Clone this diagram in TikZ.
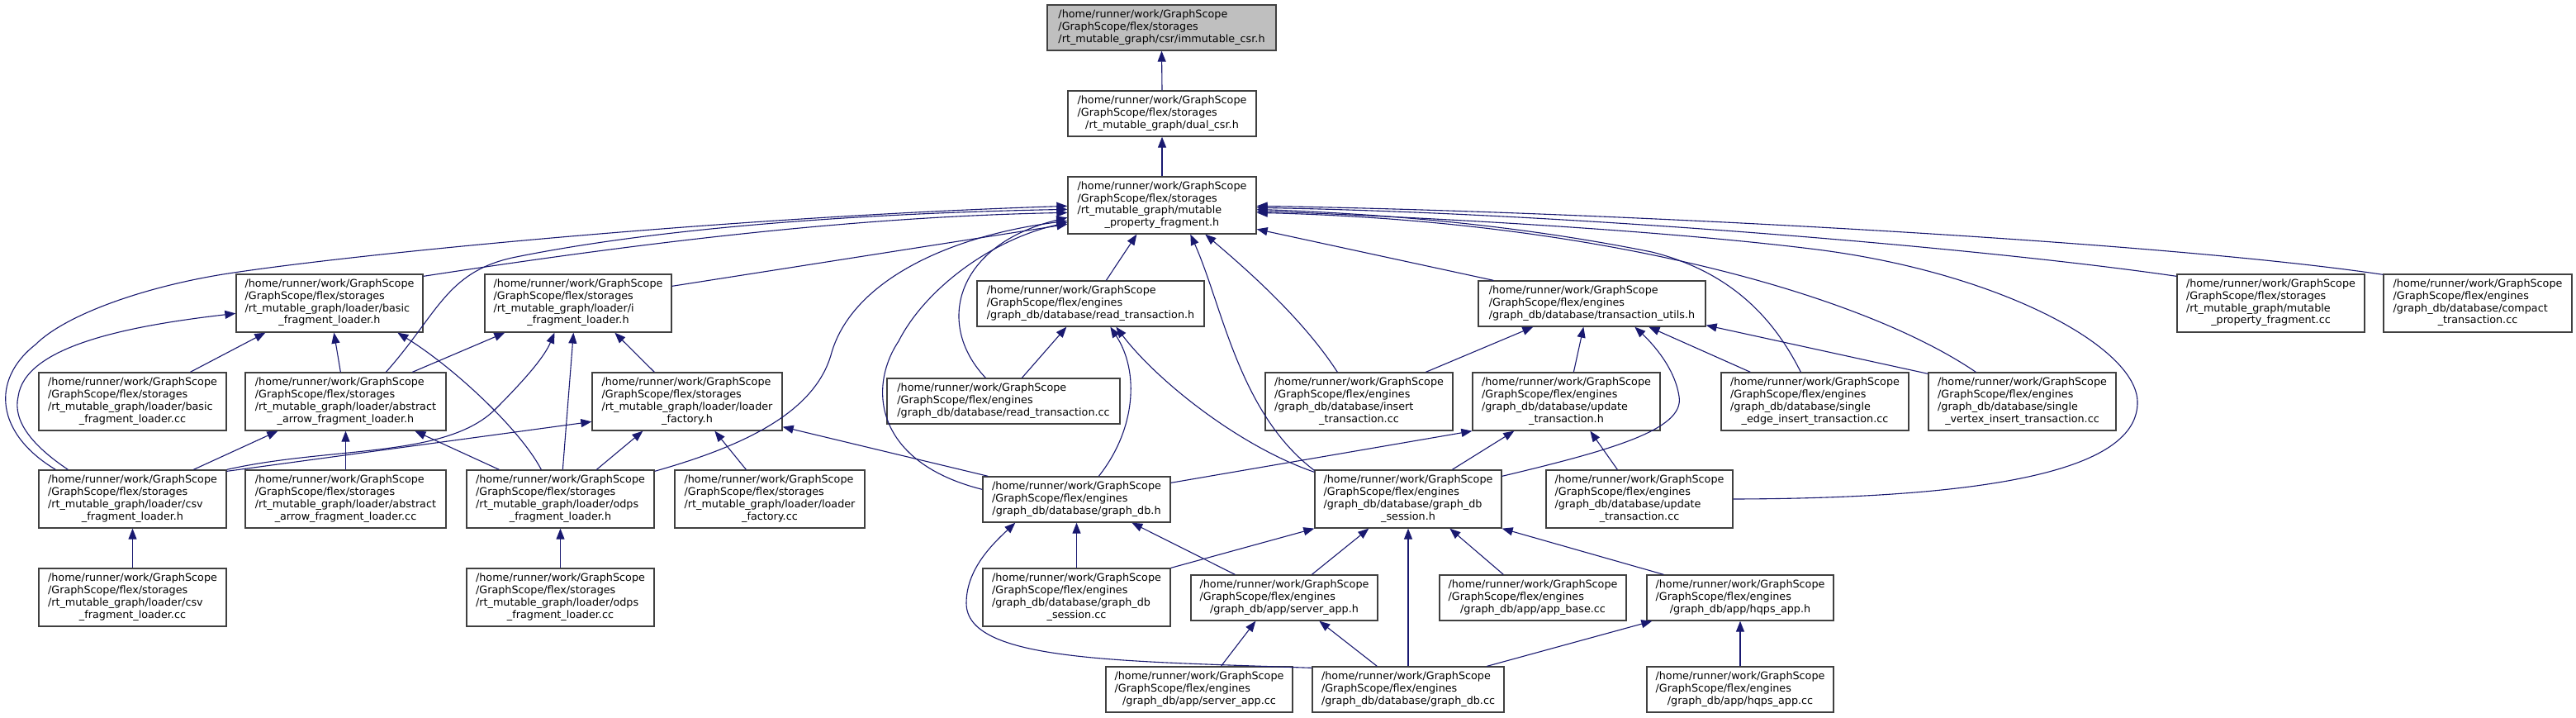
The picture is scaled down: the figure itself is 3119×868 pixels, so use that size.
\documentclass[tikz,border=0pt]{standalone}
\usepackage{fontspec}
\setmainfont{DejaVu Sans}
\usetikzlibrary{arrows.meta,calc}
\definecolor{edgeblue}{HTML}{191970}
\definecolor{boxline}{HTML}{404040}
\definecolor{rootfill}{HTML}{BFBFBF}
\newcommand{\lthree}[3]{\begin{tabular}{@{}l@{}}#1\\#2\\\multicolumn{1}{@{}c@{}}{#3}\end{tabular}}
\newcommand{\lfour}[4]{\begin{tabular}{@{}l@{}}#1\\#2\\#3\\\multicolumn{1}{@{}c@{}}{#4}\end{tabular}}
\newcommand{\hmw}{/home/runner/work/GraphScope}
\newcommand{\gsto}{/GraphScope/flex/storages}
\newcommand{\geng}{/GraphScope/flex/engines}
\tikzset{
  box/.style={draw=boxline, fill=white, line width=0.65pt, inner sep=0pt, text=black,
    font=\fontsize{6.38}{7.35}\selectfont},
  sz/.style 2 args={minimum width={#1*0.5pt}, minimum height={#2*0.5pt}},
  edge/.style={draw=edgeblue, line width=0.55pt, -{Triangle[length=6.5pt,width=5pt]}}
}
\begin{document}
\begin{tikzpicture}[x=0.5pt,y=-0.5pt]
\fill[white] (0,0) rectangle (3119,868);
\useasboundingbox (0,0) rectangle (3119,868);

% ---------- nodes ----------
\node[box,sz={277}{55},fill=rootfill] (imm) at (1406.5,33.5) {\lthree{\hmw}{\gsto}{/rt\_mutable\_graph/csr/immutable\_csr.h}};
\node[box,sz={228}{55}] (dual) at (1407,137.5) {\lthree{\hmw}{\gsto}{/rt\_mutable\_graph/dual\_csr.h}};
\node[box,sz={228}{69}] (mpf) at (1407,248.5) {\lfour{\hmw}{\gsto}{/rt\_mutable\_graph/mutable}{\_property\_fragment.h}};

\node[box,sz={226}{70}] (bflh) at (399,367) {\lfour{\hmw}{\gsto}{/rt\_mutable\_graph/loader/basic}{\_fragment\_loader.h}};
\node[box,sz={226}{70}] (ifl) at (700,367) {\lfour{\hmw}{\gsto}{/rt\_mutable\_graph/loader/i}{\_fragment\_loader.h}};
\node[box,sz={275}{55}] (rth) at (1320.5,367.5) {\lthree{\hmw}{\geng}{/graph\_db/database/read\_transaction.h}};
\node[box,sz={275}{55}] (tuh) at (1927.5,367.5) {\lthree{\hmw}{\geng}{/graph\_db/database/transaction\_utils.h}};
\node[box,sz={227}{70}] (mpfcc) at (2749.5,367) {\lfour{\hmw}{\gsto}{/rt\_mutable\_graph/mutable}{\_property\_fragment.cc}};
\node[box,sz={228}{70}] (ctcc) at (3000,367) {\lfour{\hmw}{\geng}{/graph\_db/database/compact}{\_transaction.cc}};

\node[box,sz={227}{70}] (bflcc) at (160.5,486) {\lfour{\hmw}{\gsto}{/rt\_mutable\_graph/loader/basic}{\_fragment\_loader.cc}};
\node[box,sz={243}{70}] (aaflh) at (418.5,486) {\lfour{\hmw}{\gsto}{/rt\_mutable\_graph/loader/abstract}{\_arrow\_fragment\_loader.h}};
\node[box,sz={230}{70}] (lfh) at (832,486) {\lfour{\hmw}{\gsto}{/rt\_mutable\_graph/loader/loader}{\_factory.h}};
\node[box,sz={282}{55}] (rtcc) at (1215,485.5) {\lthree{\hmw}{\geng}{/graph\_db/database/read\_transaction.cc}};
\node[box,sz={227}{70}] (itcc) at (1645.5,486) {\lfour{\hmw}{\geng}{/graph\_db/database/insert}{\_transaction.cc}};
\node[box,sz={227}{70}] (uth) at (1896.5,486) {\lfour{\hmw}{\geng}{/graph\_db/database/update}{\_transaction.h}};
\node[box,sz={227}{70}] (seit) at (2197.5,486) {\lfour{\hmw}{\geng}{/graph\_db/database/single}{\_edge\_insert\_transaction.cc}};
\node[box,sz={227}{70}] (svit) at (2448.5,486) {\lfour{\hmw}{\geng}{/graph\_db/database/single}{\_vertex\_insert\_transaction.cc}};

\node[box,sz={227}{70}] (csvh) at (160.5,604) {\lfour{\hmw}{\gsto}{/rt\_mutable\_graph/loader/csv}{\_fragment\_loader.h}};
\node[box,sz={243}{70}] (aafcc) at (418.5,604) {\lfour{\hmw}{\gsto}{/rt\_mutable\_graph/loader/abstract}{\_arrow\_fragment\_loader.cc}};
\node[box,sz={227}{70}] (odpsh) at (678.5,604) {\lfour{\hmw}{\gsto}{/rt\_mutable\_graph/loader/odps}{\_fragment\_loader.h}};
\node[box,sz={230}{70}] (lfcc) at (932,604) {\lfour{\hmw}{\gsto}{/rt\_mutable\_graph/loader/loader}{\_factory.cc}};
\node[box,sz={227}{55}] (gdbh) at (1303.5,604.5) {\lthree{\hmw}{\geng}{/graph\_db/database/graph\_db.h}};
\node[box,sz={226}{70}] (gdsh) at (1705,604) {\lfour{\hmw}{\geng}{/graph\_db/database/graph\_db}{\_session.h}};
\node[box,sz={226}{70}] (utcc) at (1985,604) {\lfour{\hmw}{\geng}{/graph\_db/database/update}{\_transaction.cc}};

\node[box,sz={227}{70}] (csvcc) at (160.5,723) {\lfour{\hmw}{\gsto}{/rt\_mutable\_graph/loader/csv}{\_fragment\_loader.cc}};
\node[box,sz={227}{70}] (odpscc) at (678.5,723) {\lfour{\hmw}{\gsto}{/rt\_mutable\_graph/loader/odps}{\_fragment\_loader.cc}};
\node[box,sz={227}{70}] (gdscc) at (1303.5,723) {\lfour{\hmw}{\geng}{/graph\_db/database/graph\_db}{\_session.cc}};
\node[box,sz={226}{55}] (sah) at (1555,723.5) {\lthree{\hmw}{\geng}{/graph\_db/app/server\_app.h}};
\node[box,sz={226}{55}] (abcc) at (1856,723.5) {\lthree{\hmw}{\geng}{/graph\_db/app/app\_base.cc}};
\node[box,sz={226}{55}] (hah) at (2107,723.5) {\lthree{\hmw}{\geng}{/graph\_db/app/hqps\_app.h}};

\node[box,sz={226}{55}] (sacc) at (1452,834.5) {\lthree{\hmw}{\geng}{/graph\_db/app/server\_app.cc}};
\node[box,sz={232}{55}] (gdbcc) at (1705,834.5) {\lthree{\hmw}{\geng}{/graph\_db/database/graph\_db.cc}};
\node[box,sz={226}{55}] (hacc) at (2107,834.5) {\lthree{\hmw}{\geng}{/graph\_db/app/hqps\_app.cc}};

% ---------- edges ----------
\draw[edge] (dual.north) -- (imm.south);
\draw[edge] (mpf.north) -- (dual.south);

% into mpf from the left
\draw[edge] ($(bflh.north east)+(0,3)$) .. controls (800,290) and (1050,262) .. ($(mpf.north west)+(0,44)$);
\draw[edge] ($(ifl.north east)+(0,15)$) -- ($(mpf.north west)+(0,58)$);
\draw[edge] ($(aaflh.north west)+(171,0)$) .. controls (530,380) and (540,330) .. (620,312) .. controls (800,275) and (1050,258) .. ($(mpf.north west)+(0,40)$);
\draw[edge] ($(csvh.north west)+(21,0)$) .. controls (-5,525) and (-12,460) .. (43,417) .. controls (80,380) and (180,345) .. (283,330) .. controls (450,305) and (900,262) .. ($(mpf.north west)+(0,36)$);
\draw[edge] ($(odpsh.north east)+(0,2)$) .. controls (900,540) and (985,500) .. (1006,430) .. controls (1030,340) and (1150,285) .. ($(mpf.north west)+(0,54)$);
\draw[edge] ($(rtcc.north west)+(120,0)$) .. controls (1130,390) and (1160,295) .. ($(mpf.north west)+(0,50)$);
\draw[edge] ($(gdbh.north west)+(0,16)$) .. controls (1060,560) and (1050,470) .. (1088,413) .. controls (1120,350) and (1200,290) .. ($(mpf.north west)+(0,56)$);

% into mpf from below
\draw[edge] ($(rth.north west)+(157,0)$) -- ($(mpf.south west)+(84,0)$);
\draw[edge] ($(gdsh.north west)+(0,1)$) .. controls (1500,500) and (1480,370) .. ($(mpf.south west)+(149,0)$);
\draw[edge] ($(itcc.north west)+(88,0)$) .. controls (1580,390) and (1520,335) .. ($(mpf.south west)+(167,0)$);
\draw[edge] ($(tuh.north west)+(19,0)$) -- ($(mpf.north east)+(0,64)$);

% into mpf from the right
\draw[edge] ($(mpfcc.north west)+(0,3)$) .. controls (2400,300) and (1900,258) .. ($(mpf.north east)+(0,38)$);
\draw[edge] ($(ctcc.north west)+(0,1)$) .. controls (2600,290) and (1900,255) .. ($(mpf.north east)+(0,36)$);
\draw[edge] ($(seit.north west)+(97,0)$) .. controls (2150,390) and (2100,330) .. (2000,305) .. controls (1850,275) and (1700,260) .. ($(mpf.north east)+(0,40)$);
\draw[edge] ($(svit.north west)+(58,0)$) .. controls (2260,360) and (1950,268) .. ($(mpf.north east)+(0,44)$);
\draw[edge] (utcc.east) .. controls (2450,603) and (2588,560) .. (2588,487) .. controls (2588,420) and (2420,330) .. (2200,302) .. controls (2000,277) and (1700,262) .. ($(mpf.north east)+(0,42)$);

% csv_fragment_loader.h
\draw[edge] ($(csvh.north west)+(36,0)$) .. controls (40,540) and (15,510) .. (22,480) .. controls (30,420) and (150,395) .. ($(bflh.north west)+(0,48)$);
\draw[edge] ($(csvh.north west)+(188,0)$) -- ($(aaflh.south west)+(40,0)$);
\draw[edge] (csvh.north east) .. controls (400,540) and (540,555) .. (600,495) .. controls (640,455) and (660,430) .. ($(ifl.south west)+(85,0)$);
\draw[edge] ($(csvh.north east)+(0,2)$) -- ($(lfh.north west)+(0,60)$);
\draw[edge] (csvcc.north) -- (csvh.south);

% loaders
\draw[edge] ($(bflcc.north west)+(184,0)$) -- ($(bflh.south west)+(36,0)$);
\draw[edge] ($(aaflh.north west)+(116,0)$) -- ($(bflh.south west)+(119,0)$);
\draw[edge] ($(aaflh.north west)+(203,0)$) -- ($(ifl.south west)+(25,0)$);
\draw[edge] (aafcc.north) -- (aaflh.south);
\draw[edge] ($(odpsh.north west)+(91,0)$) .. controls (630,520) and (550,445) .. ($(bflh.south west)+(196,0)$);
\draw[edge] ($(odpsh.north west)+(117,0)$) -- ($(ifl.south west)+(108,0)$);
\draw[edge] ($(odpsh.north west)+(40,0)$) -- ($(aaflh.south west)+(206,0)$);
\draw[edge] ($(odpsh.north west)+(158,0)$) -- ($(lfh.south west)+(62,0)$);
\draw[edge] (odpscc.north) -- (odpsh.south);
\draw[edge] ($(lfh.north west)+(76,0)$) -- ($(ifl.south west)+(158,0)$);
\draw[edge] ($(lfcc.north west)+(87,0)$) -- ($(lfh.south west)+(149,0)$);

% read transaction / graph_db.h
\draw[edge] ($(rtcc.north west)+(164,0)$) -- ($(rth.south west)+(109,0)$);
\draw[edge] ($(gdbh.north west)+(141,0)$) .. controls (1375,520) and (1380,450) .. ($(rth.south west)+(162,0)$);
\draw[edge] ($(gdbh.north west)+(7,0)$) -- ($(lfh.south east)+(0,-5)$);
\draw[edge] ($(gdbh.north east)+(0,8)$) -- (uth.south west);
\draw[edge] (gdscc.north) -- (gdbh.south);
\draw[edge] ($(sah.north west)+(54,0)$) -- ($(gdbh.south west)+(181,0)$);
\draw[edge] ($(gdbcc.north west)+(0,2)$) .. controls (1350,800) and (1170,800) .. (1170,730) .. controls (1170,690) and (1200,660) .. ($(gdbh.south west)+(40,0)$);

% graph_db_session.h
\draw[edge] ($(gdsh.north west)+(0,3)$) .. controls (1500,540) and (1400,460) .. ($(rth.south west)+(169,0)$);
\draw[edge] ($(gdsh.north west)+(167,0)$) -- ($(uth.south west)+(51,0)$);
\draw[edge] ($(gdsh.north east)+(0,8)$) .. controls (1950,545) and (2040,520) .. (2033,480) .. controls (2028,445) and (2000,415) .. ($(tuh.south west)+(190,0)$);
\draw[edge] (gdscc.north east) -- (gdsh.south west);
\draw[edge] ($(sah.north west)+(147,0)$) -- ($(gdsh.south west)+(66,0)$);
\draw[edge] (gdbcc.north) -- (gdsh.south);
\draw[edge] ($(abcc.north west)+(78,0)$) -- ($(gdsh.south west)+(164,0)$);
\draw[edge] ($(hah.north west)+(21,0)$) -- (gdsh.south east);

% apps
\draw[edge] ($(sacc.north west)+(140,0)$) -- ($(sah.south west)+(79,0)$);
\draw[edge] ($(gdbcc.north west)+(79,0)$) -- ($(sah.south west)+(156,0)$);
\draw[edge] ($(gdbcc.north west)+(212,0)$) -- ($(hah.south west)+(7,0)$);
\draw[edge] (hacc.north) -- (hah.south);

% transaction utils
\draw[edge] ($(itcc.north west)+(195,0)$) -- ($(tuh.south west)+(67,0)$);
\draw[edge] ($(uth.north west)+(123,0)$) -- ($(tuh.south west)+(128,0)$);
\draw[edge] ($(seit.north west)+(36,0)$) -- ($(tuh.south west)+(207,0)$);
\draw[edge] ($(svit.north west)+(0,2)$) -- ($(tuh.south east)+(0,-2)$);
\draw[edge] ($(utcc.north west)+(87,0)$) -- ($(uth.south west)+(143,0)$);
\end{tikzpicture}
\end{document}
